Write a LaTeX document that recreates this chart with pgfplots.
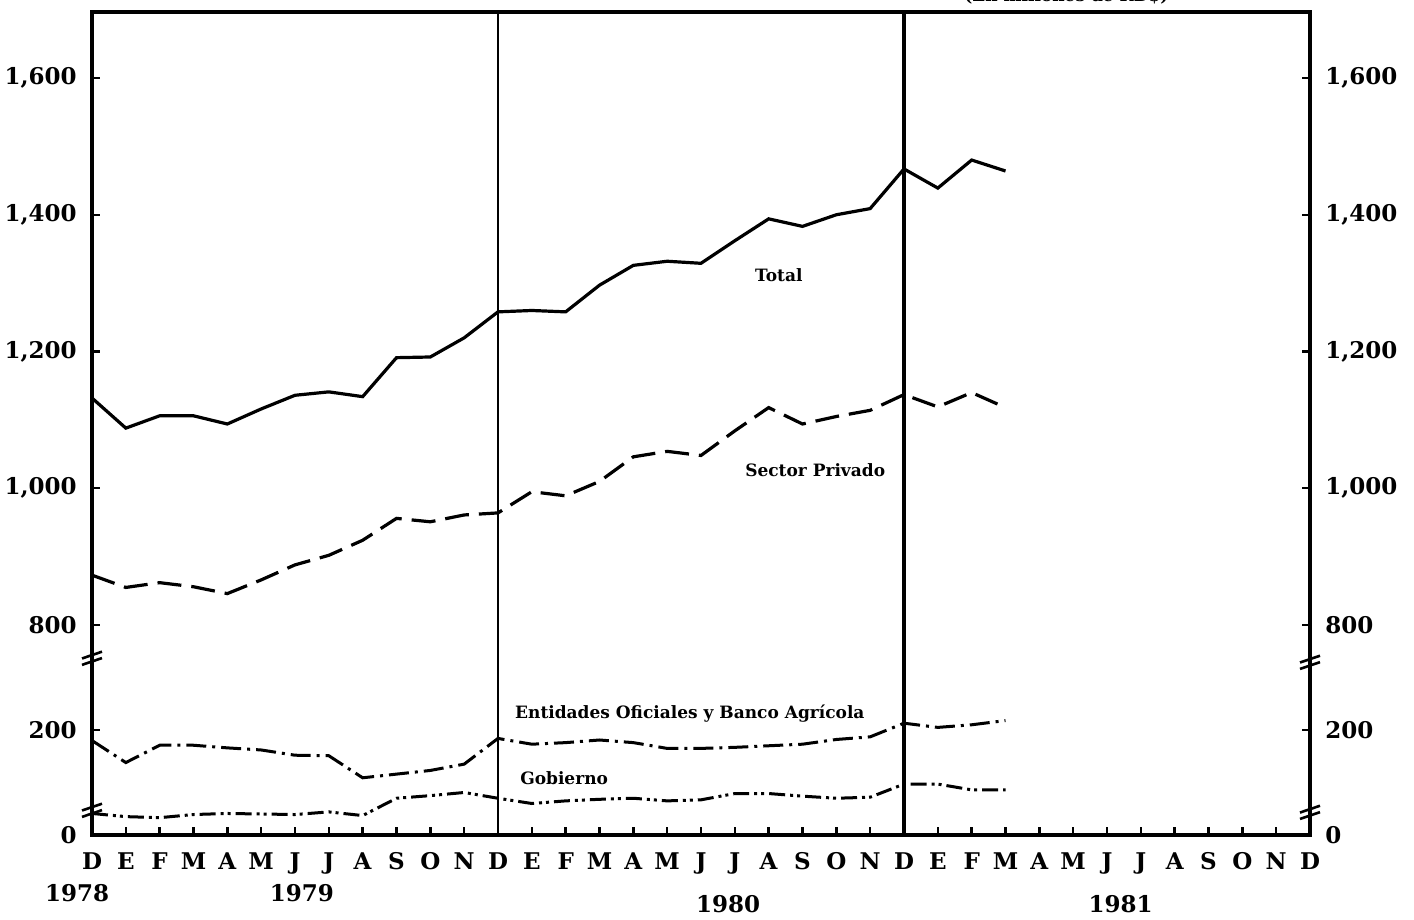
\documentclass[border=0pt]{standalone}
\usepackage{pgfplots}
\pgfplotsset{compat=1.18}
\usepackage{pgfplotstable}
\usepackage{fontspec}
\setmainfont{DejaVu Serif}
\usetikzlibrary{calc}

\newcommand{\tickfont}{\bfseries\fontsize{11.5}{12}\selectfont}
\newcommand{\labfont}{\bfseries\fontsize{8.5}{10}\selectfont}

% Upper panel: millions RD$ (800-1700)
\pgfplotstableread{
x total privado
0 1132 873
1 1088 855
2 1106 862
3 1106 856
4 1094 846
5 1116 866
6 1136 888
7 1141 902
8 1134 924
9 1191 956
10 1192 951
11 1220 961
12 1258 964
13 1260 995
14 1258 989
15 1297 1010
16 1326 1046
17 1332 1054
18 1329 1048
19 1362 1084
20 1394 1118
21 1383 1094
22 1400 1105
23 1409 1114
24 1467 1137
25 1439 1119
26 1480 1140
27 1464 1118
}\uptab

% Lower panel: millions RD$ (0-250)
\pgfplotstableread{
x entidades gobierno
0 180 41
1 138 35
2 171 33
3 171 39
4 166 41
5 162 40
6 152 39
7 151 44
8 109 37
9 116 70
10 123 75
11 135 81
12 184 70
13 173 60
14 176 65
15 181 68
16 176 70
17 165 65
18 165 67
19 167 79
20 170 79
21 173 74
22 182 70
23 187 72
24 213 97
25 205 97
26 210 86
27 218 86
}\lowtab

\pgfplotsset{common/.style={
  scale only axis, width=609pt, height=411.5pt,
  xmin=0, xmax=36, ymin=493, ymax=1696.5,
  ytick={493,646.5,800,1000,1200,1400,1600},
  yticklabels={0,200,800,{1,000},{1,200},{1,400},{1,600}},
  clip=false,
}}

\begin{document}
\begin{tikzpicture}
\begin{axis}[common, name=ax,
  axis line style={line width=1.6pt},
  tick style={line width=1.2pt, black},
  major tick length=4pt,
  tick align=inside,
  xtick={0,...,36},
  xticklabels={D,E,F,M,A,M,J,J,A,S,O,N,D,E,F,M,A,M,J,J,A,S,O,N,D,E,F,M,A,M,J,J,A,S,O,N,D},
  xtick pos=bottom, ytick pos=both, yticklabel pos=left,
  xticklabel style={font=\tickfont, anchor=base, inner sep=0pt, yshift=-17.5pt},
  yticklabel style={font=\tickfont, anchor=east, inner sep=0pt, xshift=-7.5pt},
]
\addplot[line width=1.6pt] table[x=x, y=total] {\uptab};
\addplot[line width=1.6pt, dash pattern=on 12pt off 5pt] table[x=x, y=privado] {\uptab};
\addplot[line width=1.5pt, dash pattern=on 10pt off 3pt on 1.5pt off 3pt,
  y filter/.expression={493+0.7675*y}] table[x=x, y=entidades] {\lowtab};
\addplot[line width=1.5pt, dash pattern=on 8pt off 2.5pt on 1.5pt off 2pt on 1.5pt off 2.5pt,
  y filter/.expression={493+0.7675*y}] table[x=x, y=gobierno] {\lowtab};
% year separators
\addplot[line width=1.1pt, forget plot] coordinates {(12,493) (12,1696.5)};
\addplot[line width=1.9pt, forget plot] coordinates {(24,493) (24,1696.5)};
% series labels
\node[font=\labfont] at (axis cs:20.3,1311) {Total};
\node[font=\labfont, anchor=west] at (axis cs:19.1,1027) {Sector Privado};
\node[font=\labfont, anchor=west] at (axis cs:12.3,670) {Entidades Oficiales y Banco Agrícola};
\node[font=\labfont, anchor=west] at (axis cs:12.45,576) {Gobierno};
% years
\node[font=\tickfont, anchor=base] at ([yshift=-33.5pt]axis cs:-0.44,493) {1978};
\node[font=\tickfont, anchor=base] at ([yshift=-33.5pt]axis cs:6.2,493) {1979};
\node[font=\tickfont, anchor=base] at ([yshift=-39pt]axis cs:18.8,493) {1980};
\node[font=\tickfont, anchor=base] at ([yshift=-39pt]axis cs:30.4,493) {1981};
% unit note (cut by the page edge, as in the original)
\node[font=\labfont, anchor=base] at ([yshift=5pt]axis cs:28.8,1696.5) {(En millones de RD\$)};
% axis break marks
\draw[line width=1.3pt] ([xshift=-5pt,yshift=-0.2pt]axis cs:0,751.7) -- ([xshift=5pt,yshift=3.2pt]axis cs:0,751.7);
\draw[line width=1.3pt] ([xshift=-5pt,yshift=-3.4pt]axis cs:0,751.7) -- ([xshift=5pt,yshift=0pt]axis cs:0,751.7);
\draw[line width=1.3pt] ([xshift=-5pt,yshift=-0.2pt]axis cs:0,529.4) -- ([xshift=5pt,yshift=3.2pt]axis cs:0,529.4);
\draw[line width=1.3pt] ([xshift=-5pt,yshift=-3.4pt]axis cs:0,529.4) -- ([xshift=5pt,yshift=0pt]axis cs:0,529.4);
\draw[line width=1.3pt] ([xshift=-5pt,yshift=-0.2pt]axis cs:36,745.8) -- ([xshift=5pt,yshift=3.2pt]axis cs:36,745.8);
\draw[line width=1.3pt] ([xshift=-5pt,yshift=-3.4pt]axis cs:36,745.8) -- ([xshift=5pt,yshift=0pt]axis cs:36,745.8);
\draw[line width=1.3pt] ([xshift=-5pt,yshift=-0.2pt]axis cs:36,526.4) -- ([xshift=5pt,yshift=3.2pt]axis cs:36,526.4);
\draw[line width=1.3pt] ([xshift=-5pt,yshift=-3.4pt]axis cs:36,526.4) -- ([xshift=5pt,yshift=0pt]axis cs:36,526.4);
\end{axis}
\begin{axis}[common,
  axis line style={draw=none},
  xtick=\empty,
  ytick pos=right, yticklabel pos=right,
  ytick style={draw=none},
  yticklabel style={font=\tickfont, anchor=west, inner sep=0pt, xshift=7.5pt},
]
\end{axis}
\pgfresetboundingbox
\path[use as bounding box] ([xshift=-46pt,yshift=-42.5pt]ax.south west) rectangle ([xshift=52pt,yshift=6pt]ax.north east);
\end{tikzpicture}
\end{document}
